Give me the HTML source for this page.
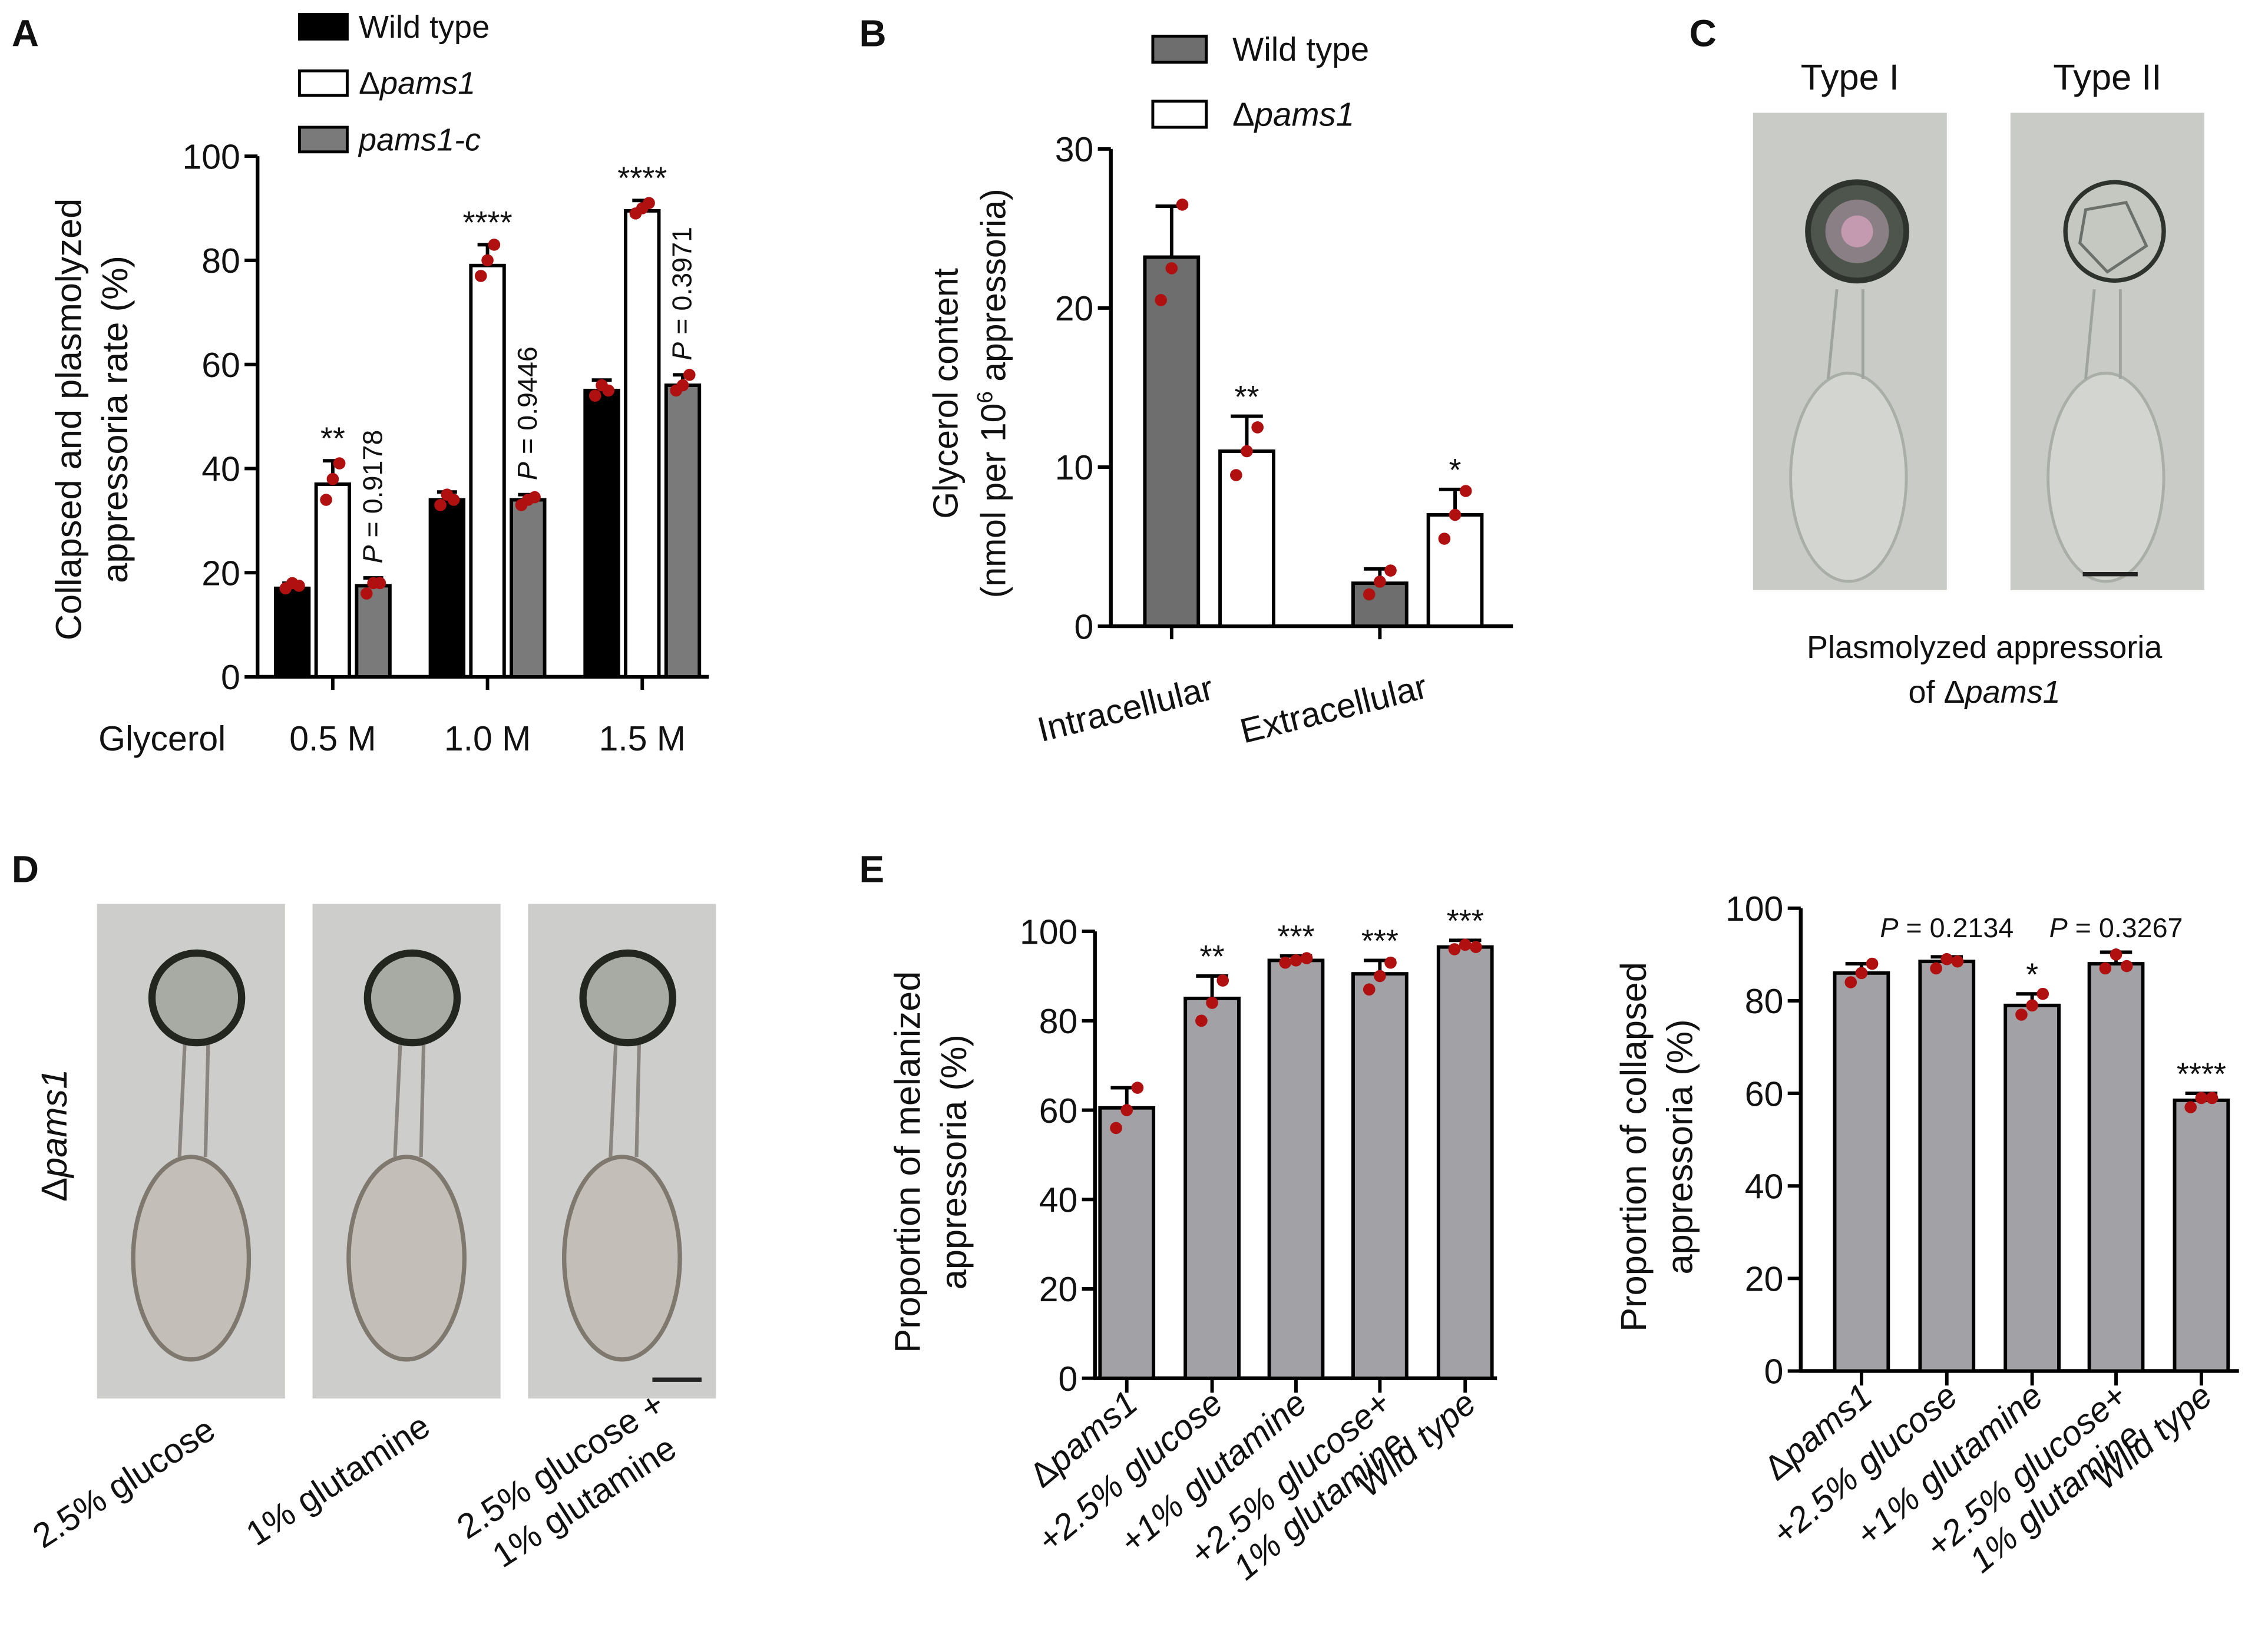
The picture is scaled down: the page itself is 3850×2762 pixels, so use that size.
<!DOCTYPE html>
<html><head><meta charset="utf-8"><style>
html,body{margin:0;padding:0;background:#fff}
svg{display:block}
text{font-family:"Liberation Sans",Arial,sans-serif;fill:#111}
</style></head><body>
<svg id="fig" width="3850" height="2762" viewBox="0 0 1568 1125" xmlns="http://www.w3.org/2000/svg">
<g id="root"></g>
</svg>
<script>
// ---------- Panel A data ----------
const aGroups = ["0.5 M","1.0 M","1.5 M"];
const aWT = [17, 34, 55];
const aPams = [37, 79, 89.5];
const aComp = [17.5, 34, 56];
const aWTerr = [1, 1.5, 2];
const aPamsErr = [4.5, 4, 2];
const aCompErr = [1.5, 1, 2];
const aWTpts = [[17,18,17.5],[33,35,34],[54,56,55]];
const aPamsPts = [[34,38,41],[77,80,83],[89,90,91]];
const aCompPts = [[16,18,18],[33,34,34.5],[55,56,58]];
const aYTicks = [0,20,40,60,80,100];
// ---------- Panel B data ----------
const bGroups = ["Intracellular","Extracellular"];
const bWT = [23.2, 2.7];
const bPams = [11, 7];
const bWTerr = [3.2, 0.9];
const bPamsErr = [2.2, 1.6];
const bWTpts = [[20.5,22.5,26.5],[2,2.8,3.5]];
const bPamsPts = [[9.5,11,12.5],[5.5,7,8.5]];
const bYTicks = [0,10,20,30];
// ---------- Panel E data ----------
const eCats = ["Δpams1","+2.5% glucose","+1% glutamine","+2.5% glucose+\n1% glutamine","Wild type"];
const eMel = [60.5, 85, 93.5, 90.5, 96.5];
const eMelErr = [4.5, 5, 1, 3, 1.5];
const eMelPts = [[56,60,65],[80,84,89],[93,93.5,94],[87,90,93],[96,97,96.5]];
const eMelSig = ["","**","***","***","***"];
const eCol = [86, 88.5, 79, 88, 58.5];
const eColErr = [2, 1, 2.5, 2.5, 1.5];
const eColPts = [[84,86,88],[87,89,88.5],[77,79,81.5],[87,90,87.5],[57,59,59]];
const eColSig = ["","P = 0.2134","*","P = 0.3267","****"];
const eYTicks = [0,20,40,60,80,100];

const NS="http://www.w3.org/2000/svg";
const root=document.getElementById('root');
function el(tag,attrs,parent){const e=document.createElementNS(NS,tag);for(const k in attrs)e.setAttribute(k,attrs[k]);(parent||root).appendChild(e);return e;}
function txt(s,attrs,parent){const t=el('text',attrs,parent);t.textContent=s;return t;}

function yAxis(g,x,y0,y1,vmin,vmax,ticks,fs){
  const sc=v=>y0-(v-vmin)/(vmax-vmin)*(y0-y1);
  const ax=el('line',{x1:x,y1:sc(vmin)+1,x2:x,y2:sc(vmax),stroke:'#000','stroke-width':2.6},g);
  
  
  ticks.forEach(v=>{
    const tk=el('line',{x1:x-9,y1:sc(v),x2:x,y2:sc(v),stroke:'#000','stroke-width':2.4},g);
    
    
    const tl=txt(String(v),{x:x-12,y:sc(v)+fs*0.36,'text-anchor':'end','font-size':fs},g);
    
    
  });
  return sc;
}
function bar(g,cx,w,sc,v,err,pts,fill){
  const r=el('rect',{x:cx-w/2,y:sc(v),width:w,height:sc(0)-sc(v),fill:fill,stroke:'#000','stroke-width':2.4},g);
  
  
  const e1=el('line',{x1:cx,y1:sc(v),x2:cx,y2:sc(v+err),stroke:'#000','stroke-width':2.4},g);
  
  
  const e2=el('line',{x1:cx-w*0.3,y1:sc(v+err),x2:cx+w*0.3,y2:sc(v+err),stroke:'#000','stroke-width':2.4},g);
  
  
  const offs=[-0.2,0,0.2];
  pts.forEach((p,i)=>{
    const c=el('circle',{cx:cx+offs[i]*w,cy:sc(p),r:4.2,fill:'#b01010'},g);
    
    
  });
}

// ================= Panel A =================
(function(){
  const g=el('g',{});
  
  
  txt('A',{x:8,y:32,'font-size':26,'font-weight':'bold'},g);
  const sc=yAxis(g,178,468,108,0,100,aYTicks,24);
  const xa=el('line',{x1:177,y1:468,x2:490,y2:468,stroke:'#000','stroke-width':2.6},g);
  
  
  const centers=[230,337,444], w=23, d=28;
  aGroups.forEach((gname,i)=>{
    const c=centers[i];
    bar(g,c-d,w,sc,aWT[i],aWTerr[i],aWTpts[i],'#000');
    bar(g,c,w,sc,aPams[i],aPamsErr[i],aPamsPts[i],'#fff');
    bar(g,c+d,w,sc,aComp[i],aCompErr[i],aCompPts[i],'#7a7a7a');
    const tk=el('line',{x1:c,y1:468,x2:c,y2:477,stroke:'#000','stroke-width':2.4},g);
    
    
    const l=txt(gname,{x:c,y:519,'text-anchor':'middle','font-size':24},g);
    
    
  });
  txt('Glycerol',{x:68,y:519,'font-size':24},g);
  const stars=['**','****','****'];
  stars.forEach((s,i)=>{
    const t=txt(s,{x:centers[i],y:sc(aPams[i]+aPamsErr[i])-8,'text-anchor':'middle','font-size':22},g);
    
    
  });
  const pv=['0.9178','0.9446','0.3971'];
  pv.forEach((p,i)=>{
    const x=centers[i]+d+6, y=sc(aComp[i]+aCompErr[i])-10;
    const t=el('text',{x:x,y:y,'font-size':19,transform:`rotate(-90 ${x} ${y})`},g);
    
    
    t.innerHTML=`<tspan font-style="italic">P</tspan> = ${p}`;
  });
  const yt=el('text',{x:0,y:0,'font-size':25,'text-anchor':'middle',transform:'translate(56 290) rotate(-90)'},g);
  
  
  yt.innerHTML='<tspan x="0" y="0">Collapsed and plasmolyzed</tspan><tspan x="0" y="32">appressoria rate (%)</tspan>';
  const leg=[['#000','Wild type'],['#fff','Δpams1'],['#7a7a7a','pams1-c']];
  leg.forEach((L,i)=>{
    const y=10+i*39;
    const r=el('rect',{x:207,y:y,width:33,height:17,fill:L[0],stroke:'#000','stroke-width':2},g);
    
    
    const t=el('text',{x:248,y:y+16,'font-size':22},g);
    
    
    if(i===0)t.textContent=L[1];
    else if(i===1)t.innerHTML='Δ<tspan font-style="italic">pams1</tspan>';
    else t.innerHTML='<tspan font-style="italic">pams1-c</tspan>';
  });
})();

// ================= Panel B =================
(function(){
  const g=el('g',{});
  
  
  txt('B',{x:594,y:32,'font-size':26,'font-weight':'bold'},g);
  const sc=yAxis(g,768,433,103,0,30,bYTicks,24);
  const xa=el('line',{x1:767,y1:433,x2:1046,y2:433,stroke:'#000','stroke-width':2.6},g);
  
  
  const centers=[836,980], w=37, d=26;
  bGroups.forEach((gname,i)=>{
    const c=centers[i];
    bar(g,c-d,w,sc,bWT[i],bWTerr[i],bWTpts[i],'#6e6e6e');
    bar(g,c+d,w,sc,bPams[i],bPamsErr[i],bPamsPts[i],'#fff');
    const tk=el('line',{x1:c-d,y1:433,x2:c-d,y2:442,stroke:'#000','stroke-width':2.4},g);
    
    
    const x=c-56,y=498;
    const l=txt(gname,{x:x,y:y,'text-anchor':'middle','font-size':24,transform:`rotate(-14 ${x} ${y})`},g);
    
    
  });
  ['**','*'].forEach((s,i)=>{
    const t=txt(s,{x:centers[i]+d,y:sc(bPams[i]+bPamsErr[i])-6,'text-anchor':'middle','font-size':22},g);
    
    
  });
  const yt=el('text',{x:0,y:0,'font-size':24,'text-anchor':'middle',transform:'translate(662 272) rotate(-90)'},g);
  
  
  yt.innerHTML='<tspan x="0" y="0">Glycerol content</tspan><tspan x="0" y="33">(nmol per 10<tspan font-size="15" dy="-9">6</tspan><tspan dy="9"> appressoria)</tspan></tspan>';
  const leg=[['#6e6e6e','Wild type'],['#fff','Δpams1']];
  leg.forEach((L,i)=>{
    const y=25+i*45;
    const r=el('rect',{x:797,y:y,width:37,height:18,fill:L[0],stroke:'#000','stroke-width':2},g);
    
    
    const t=el('text',{x:852,y:y+17,'font-size':23},g);
    
    
    if(i===0)t.textContent=L[1]; else t.innerHTML='Δ<tspan font-style="italic">pams1</tspan>';
  });
})();

// ================= Panel C =================
(function(){
  const g=el('g',{});
  
  
  txt('C',{x:1168,y:32,'font-size':26,'font-weight':'bold'},g);
  [[1212,'Type I'],[1390,'Type II']].forEach((p,i)=>{
    const x=p[0];
    const im=el('rect',{x:x,y:78,width:134,height:330,fill:'#c9cbc7'},g);
    
    
    txt(p[1],{x:x+67,y:62,'text-anchor':'middle','font-size':25},g);
    const cx=x+72;
    el('ellipse',{cx:cx-6,cy:330,rx:40,ry:72,fill:'#d3d6d0',stroke:'#a9aea6','stroke-width':2},g);
    el('path',{d:`M${cx-14} 200 L${cx-20} 262 M${cx+4} 200 L${cx+4} 262`,stroke:'#9fa59e','stroke-width':2,fill:'none'},g);
    el('circle',{cx:cx,cy:160,r:34,fill:i===0?'#4d554c':'#c4c8c1',stroke:'#2e332d','stroke-width':i===0?4:3},g);
    if(i===0){el('circle',{cx:cx,cy:160,r:22,fill:'#8a7f84'},g);el('circle',{cx:cx,cy:160,r:11,fill:'#c49ab0'},g);}
    else{el('path',{d:`M${cx-20} 145 L${cx+8} 140 L${cx+22} 170 L${cx-5} 188 L${cx-24} 168 Z`,fill:'none',stroke:'#6b706a','stroke-width':2},g);}
  });
  el('line',{x1:1440,y1:397,x2:1478,y2:397,stroke:'#222','stroke-width':3},g);
  const c1=txt('Plasmolyzed appressoria',{x:1372,y:455,'text-anchor':'middle','font-size':22},g);
  
  const c2=el('text',{x:1372,y:486,'text-anchor':'middle','font-size':22},g);
  
  c2.innerHTML='of Δ<tspan font-style="italic">pams1</tspan>';
})();

// ================= Panel D =================
(function(){
  const g=el('g',{});
  
  
  txt('D',{x:8,y:610,'font-size':26,'font-weight':'bold'},g);
  const yl=el('text',{x:0,y:0,'font-size':25,'text-anchor':'middle',transform:'translate(46 785) rotate(-90)'},g);
  
  yl.innerHTML='Δ<tspan font-style="italic">pams1</tspan>';
  const xs=[67,216,365];
  const labels=[['2.5% glucose'],['1% glutamine'],['2.5% glucose +','1% glutamine']];
  const lpos=[[90,1032],[238,1030],[392,1020]];
  xs.forEach((x,i)=>{
    const im=el('rect',{x:x,y:625,width:130,height:342,fill:'#cdcdcb'},g);
    
    
    const cx=x+69;
    el('ellipse',{cx:cx-4,cy:870,rx:40,ry:70,fill:'#c3bfb8',stroke:'#7e786f','stroke-width':3},g);
    el('path',{d:`M${cx-8} 715 L${cx-12} 800 M${cx+8} 715 L${cx+6} 800`,stroke:'#8a857e','stroke-width':2.5,fill:'none'},g);
    el('circle',{cx:cx,cy:690,r:31,fill:'#a7aba3',stroke:'#22261f','stroke-width':5},g);
    const lx=lpos[i][0], ly=lpos[i][1];
    const t=el('text',{x:lx,y:ly,'font-size':24,'text-anchor':'middle',transform:`rotate(-33 ${lx} ${ly})`},g);
    
    if(labels[i].length===1)t.textContent=labels[i][0];
    else t.innerHTML=`<tspan x="${lx}" y="${ly}">${labels[i][0]}</tspan><tspan x="${lx}" y="${ly+30}">${labels[i][1]}</tspan>`;
  });
  el('line',{x1:451,y1:954,x2:485,y2:954,stroke:'#222','stroke-width':3},g);
})();

// ================= Panel E =================
function panelE(name,axX,y0,y1,xEnd,centers,vals,errs,pts,sigs,title1,title2,titleX){
  const g=el('g',{});
  
  
  const sc=yAxis(g,axX,y0,y1,0,100,eYTicks,24);
  const xa=el('line',{x1:axX-1,y1:y0,x2:xEnd,y2:y0,stroke:'#000','stroke-width':2.6},g);
  
  
  const w=37;
  eCats.forEach((cat,i)=>{
    const c=centers[i];
    bar(g,c,w,sc,vals[i],errs[i],pts[i],'#a2a2a6');
    const tk=el('line',{x1:c,y1:y0,x2:c,y2:y0+10,stroke:'#000','stroke-width':2.4},g);
    
    
    const x=c+9,y=y0+20;
    const t=el('text',{x:x,y:y,'font-size':24,'text-anchor':'end',transform:`rotate(-40 ${x} ${y})`},g);
    
    
    const parts=cat.split('\n');
    if(cat.startsWith('Δ'))t.innerHTML='Δ<tspan font-style="italic">pams1</tspan>';
    else if(parts.length===2){t.setAttribute('font-style','italic');t.innerHTML=`<tspan x="${x}" y="${y}">${parts[0]}</tspan><tspan x="${x-10}" y="${y+27}">${parts[1]}</tspan>`;}
    else {t.setAttribute('font-style','italic');t.textContent=cat;}
    const s=sigs[i];
    if(s){
      const st=el('text',{x:c,y:sc(vals[i]+errs[i])-6,'text-anchor':'middle','font-size':s.startsWith('P')?19:22},g);
      if(s.startsWith('P')){st.setAttribute('y',sc(100)+20);st.innerHTML=`<tspan font-style="italic">P</tspan>${s.slice(1)}`;}
      else st.textContent=s;
      
      
    }
  });
  const yt=el('text',{x:0,y:0,'font-size':25,'text-anchor':'middle',transform:`translate(${titleX} ${(y0+y1)/2+5}) rotate(-90)`},g);
  
  
  yt.innerHTML=`<tspan x="0" y="0">${title1}</tspan><tspan x="0" y="32">${title2}</tspan>`;
  return g;
}
txt('E',{x:594,y:610,'font-size':26,'font-weight':'bold'});
panelE('panel-e-melanized',757,953,644,1035,[779,838,896,954,1013],eMel,eMelErr,eMelPts,eMelSig,'Proportion of melanized','appressoria (%)',636);
panelE('panel-e-collapsed',1245,948,628,1548,[1287,1346,1405,1463,1522],eCol,eColErr,eColPts,eColSig,'Proportion of  collapsed','appressoria (%)',1138);
</script>
</body></html>
